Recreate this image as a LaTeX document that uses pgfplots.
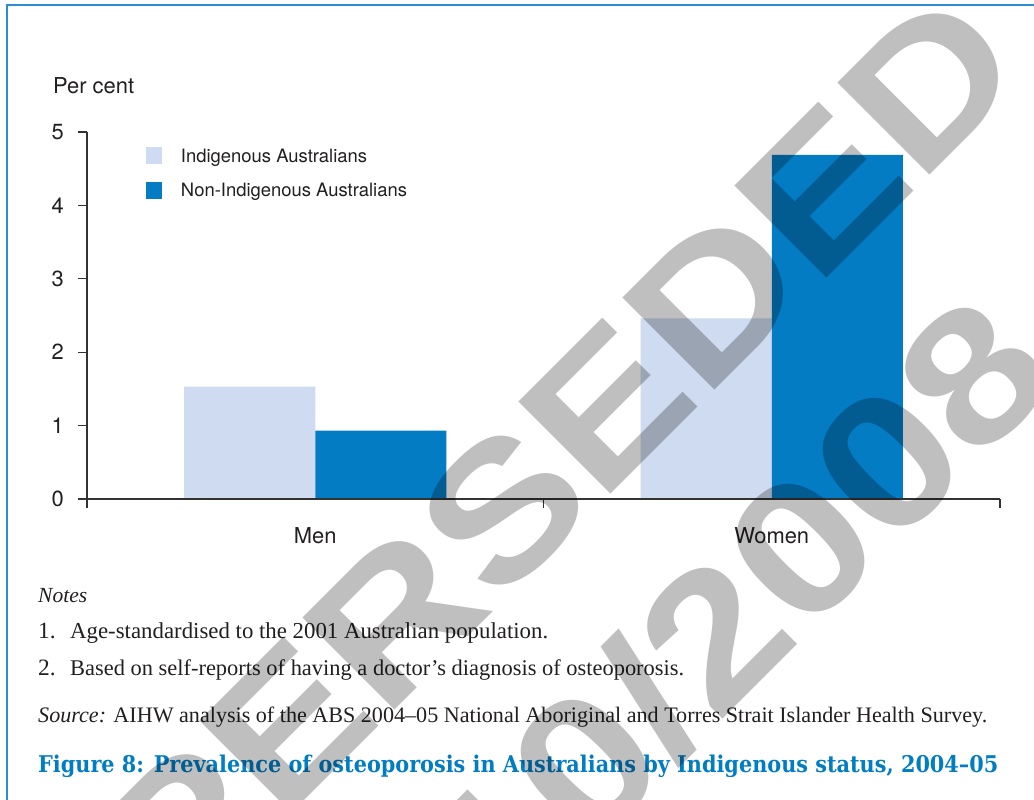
\documentclass[border=0pt]{standalone}
\usepackage{pgfplots}
\pgfplotsset{compat=1.18}
\usepackage{fontspec}
\usepackage{graphicx}
\setmainfont{TeX Gyre Heros}
\newfontfamily\notefont{Liberation Serif}
\newfontfamily\titlefont{DejaVu Serif}
\newfontfamily\wmfont{Liberation Sans}
\definecolor{lightbar}{RGB}{206,219,240}
\definecolor{darkbar}{RGB}{3,124,195}
\definecolor{titleblue}{RGB}{0,125,195}
\definecolor{frameblue}{RGB}{45,140,210}
\definecolor{axisgray}{RGB}{50,50,50}
\definecolor{txt}{RGB}{35,31,32}
\begin{document}
\begin{tikzpicture}
\begin{scope}[x=1bp,y=1bp,shift={(-87bp,499bp)}]
\fill[white] (0,0) rectangle (1034,-800);
\draw[frameblue, line width=1.5bp] (7,-800) -- (7,-5) -- (1034,-5);
\end{scope}
\begin{axis}[
  at={(0pt,0pt)}, anchor=south west,
  width=913bp, height=367bp, scale only axis,
  xmin=0, xmax=2, ymin=0, ymax=5,
  axis x line*=bottom, axis y line*=left,
  axis line style={draw=axisgray, line width=1.3bp},
  axis on top,
  ybar=0pt, bar width=0.287,
  xtick={0.5,1.5}, xticklabels={Men,Women},
  minor xtick={0,1,2},
  ytick={0,1,2,3,4,5},
  tick align=outside,
  major tick length=9bp, minor tick length=9bp,
  tick style={draw=axisgray, line width=1.3bp},
  every major x tick/.style={draw=none},
  /pgf/number format/assume math mode=true,
  xticklabel style={font=\fontsize{22}{26}\selectfont, text=txt, inner sep=0pt, anchor=north, yshift=-19.5bp},
  yticklabel style={font=\fontsize{22}{26}\selectfont, text=txt, inner sep=0pt, anchor=east, xshift=-14bp},
  legend cell align=left,
  legend image code/.code={\fill[#1] (0bp,-6.5bp) rectangle (16bp,10.5bp);},
  legend style={draw=none, fill=none, inner sep=0pt, outer sep=0pt,
    at={(0.0646,0.9591)}, anchor=north west,
    row sep=15.5bp, column sep=19bp,
    font=\fontsize{18.5}{22}\selectfont, text=txt,
    nodes={inner sep=0pt, text height=13bp, text depth=4bp}},
]
\addplot[fill=lightbar, draw=none] coordinates {(0.5,1.53) (1.5,2.46)};
\addplot[fill=darkbar, draw=none] coordinates {(0.5,0.93) (1.5,4.69)};
\legend{Indigenous Australians, Non-Indigenous Australians}
\end{axis}
\begin{scope}[x=1bp,y=1bp,shift={(-87bp,499bp)}]
\node[anchor=base west, inner sep=0pt, text=txt, font=\fontsize{22}{26}\selectfont] at (53,-94) {Per cent};
% notes
\node[anchor=base west, inner sep=0pt, text=txt] at (38,-603) {\resizebox{49bp}{!}{\notefont\itshape\fontsize{23.5}{28}\selectfont Notes}};
\node[anchor=base west, inner sep=0pt, text=txt] at (38,-639) {\notefont\fontsize{23.5}{28}\selectfont 1.};
\node[anchor=base west, inner sep=0pt, text=txt] at (70,-639) {\resizebox{478bp}{!}{\notefont\fontsize{23.5}{28}\selectfont Age-standardised to the 2001 Australian population.}};
\node[anchor=base west, inner sep=0pt, text=txt] at (38,-676) {\notefont\fontsize{23.5}{28}\selectfont 2.};
\node[anchor=base west, inner sep=0pt, text=txt] at (70,-676) {\resizebox{614bp}{!}{\notefont\fontsize{23.5}{28}\selectfont Based on self-reports of having a doctor’s diagnosis of osteoporosis.}};
\node[anchor=base west, inner sep=0pt, text=txt] at (38,-723) {\resizebox{949bp}{!}{\notefont\fontsize{23.5}{28}\selectfont {\itshape Source:} AIHW analysis of the ABS 2004–05 National Aboriginal and Torres Strait Islander Health Survey.}};
\node[anchor=base west, inner sep=0pt, text=titleblue] at (38,-773) {\resizebox{960bp}{17.5bp}{\titlefont\bfseries Figure 8: Prevalence of osteoporosis in Australians by Indigenous status, 2004–05}};
% watermark
\node[font=\wmfont\bfseries\fontsize{190}{190}\selectfont, text=black, text opacity=0.25, rotate=45, anchor=base west, inner sep=0pt] at (-38,-1143) {\scalebox{1.16}[1]{SUPERSEDED}};
\node[font=\wmfont\bfseries\fontsize{190}{190}\selectfont, text=black, text opacity=0.25, rotate=45, anchor=base west, inner sep=0pt] at (502,-940) {\scalebox{1.16}[1]{10/2008}};
\end{scope}
\pgfresetboundingbox
\path[use as bounding box] (-87bp,499bp) rectangle (947bp,-301bp);
\end{tikzpicture}
\end{document}
